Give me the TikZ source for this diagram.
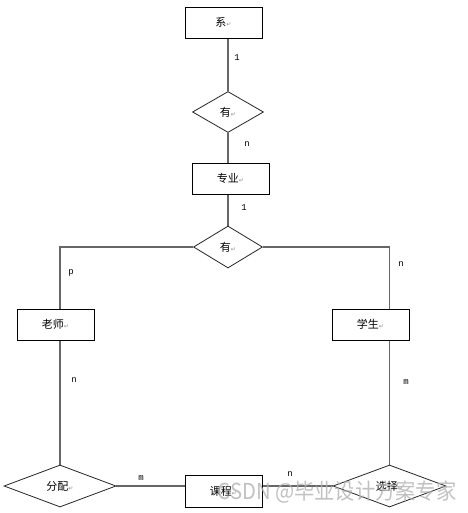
\documentclass[tikz,border=0pt]{standalone}
\usepackage{fontspec}
\setmainfont{Liberation Serif}
\newfontfamily\cjk{Noto Sans CJK SC}
\newfontfamily\lbl{Liberation Mono}
\newfontfamily\dv{DejaVu Sans}
\usetikzlibrary{shapes.geometric,calc,backgrounds}
\newcommand{\rmk}{{\dv\fontsize{6}{6}\selectfont\color{black!45}↵}}
\tikzset{
  ent/.style={draw=black, line width=0.8pt, fill=white, minimum width=77pt, minimum height=31pt, inner sep=0pt, font=\cjk\fontsize{11}{13}\selectfont},
  rel/.style={diamond, draw=black!85, line width=0.8pt, fill=white, inner sep=0pt, font=\cjk\fontsize{11}{13}\selectfont},
  conn/.style={draw=black!60, line width=1.3pt},
  card/.style={font=\lbl\fontsize{9}{9}\selectfont, inner sep=0pt}
}
\begin{document}
\begin{tikzpicture}[x=1pt,y=-1pt]
\useasboundingbox (0,0) rectangle (467,513);
% nodes
\node[ent] (xi) at (223.5,22.5) {系\rmk};
\node[rel, minimum width=71pt, minimum height=41pt] (d1) at (228,112) {有\rmk};
\node[ent] (zy) at (230.5,178.5) {专业\rmk};
\node[rel, minimum width=69pt, minimum height=42pt] (d2) at (228,247) {有\rmk};
\node[ent] (ls) at (55.5,324.5) {老师\rmk};
\node[ent] (xs) at (370.5,324.5) {学生\rmk};
\node[rel, minimum width=112pt, minimum height=42pt] (fp) at (60,486) {分配\rmk};
\node[ent, minimum height=32pt] (kc) at (223.5,491) {课程\rmk};
\node[rel, minimum width=113pt, minimum height=42pt] (xz) at (389.5,486) {选择\rmk};
% connectors
\begin{scope}[on background layer]
\fill[white] (0,0) rectangle (467,513);
\draw[conn] (xi.south -| d1.north) -- (d1.north);
\draw[conn] (d1.south) -- (zy.north -| d1.south);
\draw[conn] (zy.south -| d2.north) -- (d2.north);
\draw[conn] (d2.west) -| (ls.north -| fp.north);
\draw[conn] (ls.south -| fp.north) -- (fp.north);
\draw[conn] (d2.east) -| (xs.north -| xz.north);
\draw[conn] (xs.south -| xz.north) -- (xz.north);
\draw[conn] (fp.east) -- (fp.east -| kc.west);
\draw[conn] (fp.east -| kc.east) -- (xz.west);
\end{scope}
% cardinalities
\node[card] (c1) at (237,58) {1};
\node[card] (c2) at (247,144) {n};
\node[card] (c3) at (244,208) {1};
\node[card] (c4) at (71,273) {p};
\node[card] (c5) at (401,264) {n};
\node[card] (c6) at (74,380) {n};
\node[card] (c7) at (406,382) {m};
\node[card] (c8) at (141,478) {m};
\node[card] (c9) at (290,474) {n};
% watermark
\node[font=\cjk\fontsize{22}{22}\selectfont, text=black!30, opacity=0.8, inner sep=0pt, xscale=0.92] (wm) at (337,492) {CSDN @毕业设计方案专家};
\end{tikzpicture}
\end{document}
